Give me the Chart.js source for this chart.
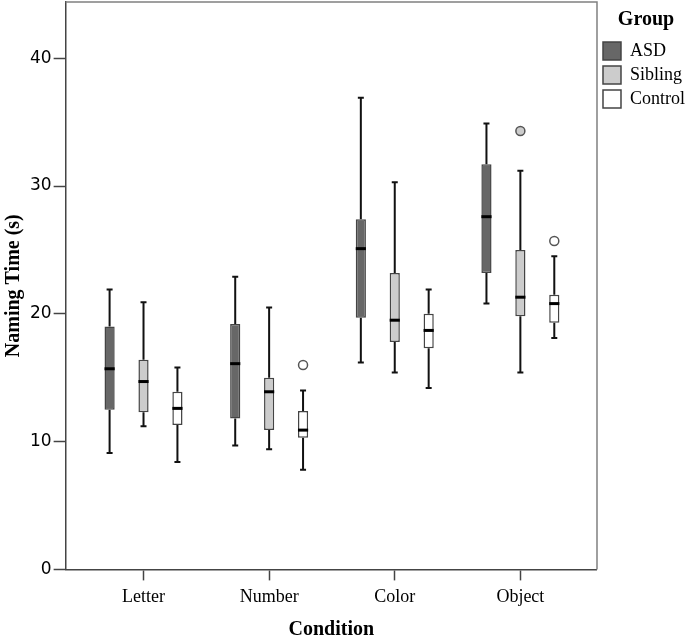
<!DOCTYPE html>
<html>
<head>
<meta charset="utf-8">
<script src="https://cdn.jsdelivr.net/npm/chart.js@4"></script>
<style>
  body { margin: 0; background: #fff; }
</style>
</head>
<body>
<canvas id="myChart" width="685" height="635"></canvas>
<script>
const categories = ['Letter', 'Number', 'Color', 'Object']
const groups = ['ASD', 'Sibling', 'Control']
const yTicks = [0, 10, 20, 30, 40]

// five-number summaries
const asdMin = [9.1, 9.7, 16.2, 20.8]
const asdQ1 = [12.5, 11.8, 19.7, 23.2]
const asdMedian = [15.7, 16.1, 25.1, 27.6]
const asdQ3 = [19.0, 19.2, 27.4, 31.7]
const asdMax = [21.9, 22.9, 36.9, 34.9]
const asdOutliers = [[], [], [], []]

const sibMin = [11.2, 9.4, 15.4, 15.4]
const sibQ1 = [12.3, 10.9, 17.8, 19.8]
const sibMedian = [14.7, 13.9, 19.5, 21.3]
const sibQ3 = [16.4, 15.0, 23.2, 25.0]
const sibMax = [20.9, 20.5, 30.3, 31.2]
const sibOutliers = [[], [], [], [34.3]]

const conMin = [8.4, 7.8, 14.2, 18.1]
const conQ1 = [11.3, 10.3, 17.3, 19.3]
const conMedian = [12.6, 10.9, 18.7, 20.8]
const conQ3 = [13.9, 12.4, 20.0, 21.5]
const conMax = [15.8, 14.0, 21.9, 24.5]
const conOutliers = [[], [16.0], [], [25.7]]

const makeSet = (label, color, mins, q1, med, q3, maxs, outs) => ({
    label: label,
    data: categories.map((c, i) => ({ x: i, y: [q1[i], q3[i]] })),
    backgroundColor: color,
    borderColor: '#444',
    borderWidth: 1.5,
    borderSkipped: false,
    lows: mins,
    highs: maxs,
    medians: med,
    outliers: outs
})

const boxExtras = {
    id: 'boxExtras',
    beforeDatasetsDraw(chart) {
        const ctx = chart.ctx
        const a = chart.chartArea
        // top and right frame lines
        ctx.save()
        ctx.strokeStyle = '#808080'
        ctx.lineWidth = 1.5
        ctx.beginPath()
        ctx.moveTo(a.left, a.top)
        ctx.lineTo(a.right, a.top)
        ctx.lineTo(a.right, a.bottom)
        ctx.stroke()

        // whiskers
        const y = chart.scales.y
        ctx.strokeStyle = '#111'
        ctx.lineWidth = 2
        chart.data.datasets.forEach((ds, d) => {
            chart.getDatasetMeta(d).data.forEach((bar, i) => {
                const x = bar.x
                const yLow = y.getPixelForValue(ds.lows[i])
                const yHigh = y.getPixelForValue(ds.highs[i])
                const yQ1 = y.getPixelForValue(ds.data[i].y[0])
                const yQ3 = y.getPixelForValue(ds.data[i].y[1])
                ctx.beginPath()
                ctx.moveTo(x, yQ3)
                ctx.lineTo(x, yHigh)
                ctx.moveTo(x, yQ1)
                ctx.lineTo(x, yLow)
                ctx.moveTo(x - 3, yHigh)
                ctx.lineTo(x + 3, yHigh)
                ctx.moveTo(x - 3, yLow)
                ctx.lineTo(x + 3, yLow)
                ctx.stroke()
            })
        })
        ctx.restore()
    },
    afterDatasetsDraw(chart) {
        const ctx = chart.ctx
        const y = chart.scales.y
        ctx.save()
        chart.data.datasets.forEach((ds, d) => {
            chart.getDatasetMeta(d).data.forEach((bar, i) => {
                const x = bar.x
                const w = bar.width
                const ym = y.getPixelForValue(ds.medians[i])
                ctx.strokeStyle = '#000'
                ctx.lineWidth = 3
                ctx.beginPath()
                ctx.moveTo(x - w / 2, ym)
                ctx.lineTo(x + w / 2, ym)
                ctx.stroke()
                ds.outliers[i].forEach(v => {
                    ctx.beginPath()
                    ctx.arc(x, y.getPixelForValue(v), 4.5, 0, Math.PI * 2)
                    ctx.fillStyle = ds.backgroundColor
                    ctx.fill()
                    ctx.strokeStyle = '#555'
                    ctx.lineWidth = 1.5
                    ctx.stroke()
                })
            })
        })
        ctx.restore()
    }
}

const createChart = () => {
    const ctx = document.getElementById('myChart')
    Chart.defaults.font.family = "'Liberation Serif', serif"
    Chart.defaults.color = '#000'

    new Chart(ctx, {
        type: 'bar',
        data: {
            datasets: [
                makeSet(groups[0], '#676767', asdMin, asdQ1, asdMedian, asdQ3, asdMax, asdOutliers),
                makeSet(groups[1], '#cccccc', sibMin, sibQ1, sibMedian, sibQ3, sibMax, sibOutliers),
                makeSet(groups[2], '#ffffff', conMin, conQ1, conMedian, conQ3, conMax, conOutliers)
            ]
        },
        options: {
            responsive: false,
            animation: false,
            categoryPercentage: 0.81,
            barPercentage: 0.3,
            layout: { padding: { top: 2, left: 0, right: -10, bottom: 0 } },
            plugins: {
                tooltip: { enabled: false },
                legend: {
                    position: 'right',
                    align: 'start',
                    title: {
                        display: true,
                        text: 'Group',
                        font: { size: 20, weight: 'bold' },
                        padding: { top: 8, bottom: 2 }
                    },
                    labels: {
                        boxWidth: 18,
                        boxHeight: 18,
                        padding: 6,
                        font: { size: 18 }
                    }
                }
            },
            scales: {
                x: {
                    type: 'linear',
                    min: -0.62,
                    max: 3.61,
                    offset: false,
                    grid: {
                        offset: false,
                        drawOnChartArea: false,
                        tickLength: 11,
                        tickWidth: 1.5,
                        color: '#444'
                    },
                    border: { color: '#444', width: 1.5 },
                    ticks: {
                        stepSize: 1,
                        includeBounds: false,
                        font: { size: 18 },
                        padding: 6,
                        callback: v => categories[v]
                    },
                    title: {
                        display: true,
                        text: 'Condition',
                        font: { size: 20, weight: 'bold' },
                        padding: { top: 4, bottom: -7 }
                    }
                },
                y: {
                    min: 0,
                    max: 44.4,
                    afterFit: s => { s.paddingTop = 0; s.paddingBottom = 0 },
                    grid: {
                        drawOnChartArea: false,
                        tickLength: 12,
                        tickWidth: 1.5,
                        color: '#444'
                    },
                    border: { color: '#444', width: 1.5 },
                    ticks: {
                        stepSize: 10,
                        includeBounds: false,
                        padding: 2,
                        font: { family: "'DejaVu Sans', sans-serif", size: 17 },
                        callback: v => yTicks.includes(v) ? v : ''
                    },
                    title: {
                        display: true,
                        text: 'Naming Time (s)',
                        font: { size: 20, weight: 'bold' },
                        padding: { top: 2, bottom: 2 }
                    }
                }
            }
        },
        plugins: [boxExtras]
    })
}

createChart()
</script>
</body>
</html>
